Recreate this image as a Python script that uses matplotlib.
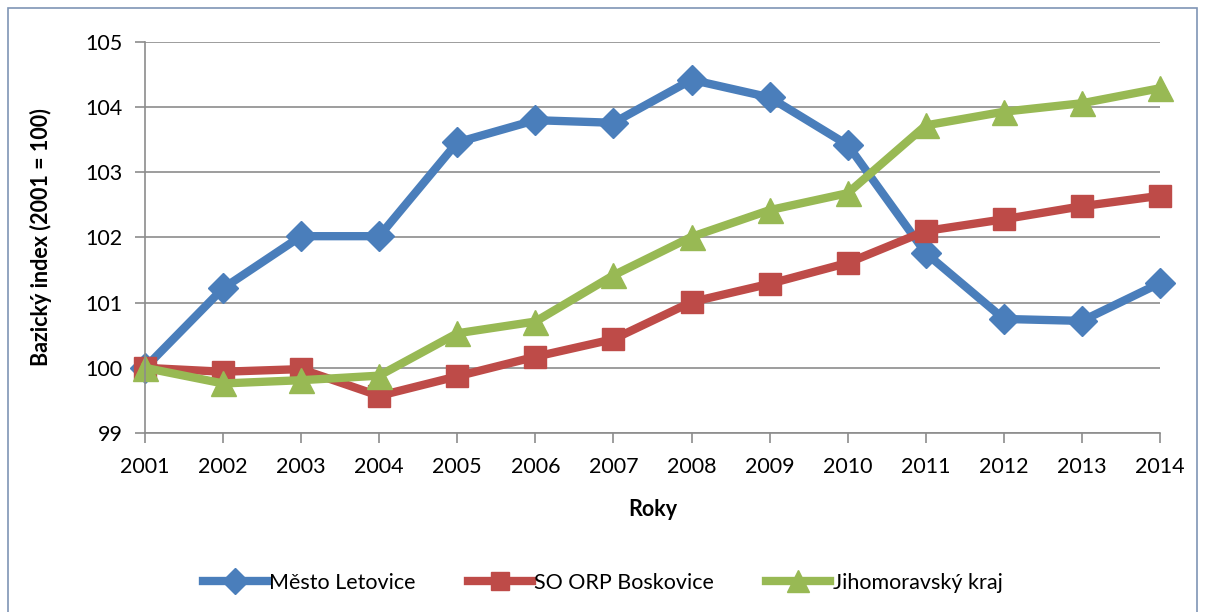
import matplotlib.pyplot as plt
from matplotlib.patches import Rectangle

roky = [2001, 2002, 2003, 2004, 2005, 2006, 2007, 2008, 2009, 2010, 2011, 2012, 2013, 2014]
letovice = [100.0, 101.22, 102.02, 102.02, 103.46, 103.80, 103.76, 104.42, 104.15, 103.42, 101.76, 100.75, 100.72, 101.30]
boskovice = [100.0, 99.94, 99.98, 99.57, 99.87, 100.17, 100.44, 101.01, 101.29, 101.61, 102.10, 102.28, 102.48, 102.64]
jmk = [100.0, 99.76, 99.81, 99.88, 100.53, 100.71, 101.42, 102.01, 102.42, 102.68, 103.72, 103.93, 104.06, 104.29]
nazvy = ['Město Letovice', 'SO ORP Boskovice', 'Jihomoravský kraj']

plt.rcParams['font.family'] = ['Lato', 'DejaVu Sans']

fig = plt.figure(figsize=(12.05, 6.12), dpi=100)
ax = fig.add_axes([0.1203, 0.2925, 0.8424, 0.6389])

# ramecek kolem grafu
fig.patches.append(Rectangle((8 / 1205, -0.05), 1189 / 1205, 1 - 8 / 612 + 0.05,
                             transform=fig.transFigure, fill=False,
                             edgecolor='#7f95b5', linewidth=1.2))

ax.plot(roky, letovice, color='#4A7EBB', lw=6, marker='D', ms=15, label=nazvy[0])
ax.plot(roky, boskovice, color='#BE4B48', lw=6, marker='s', ms=16, label=nazvy[1])
ax.plot(roky, jmk, color='#98B954', lw=6, marker='^', ms=18, label=nazvy[2])

ax.set_xlim(2001, 2014)
ax.set_ylim(99, 105)
ax.set_xticks(roky)
ax.set_yticks(range(99, 106))
ax.yaxis.grid(True, color='#8c8c8c', lw=1.2)
ax.set_axisbelow(True)
for s in ['top', 'right']:
    ax.spines[s].set_visible(False)
for s in ['left', 'bottom']:
    ax.spines[s].set_color('#8c8c8c')
    ax.spines[s].set_linewidth(1.2)
ax.tick_params(axis='both', colors='#8c8c8c', length=7, width=1.2, labelsize=15.5,
               labelcolor='black')
ax.tick_params(axis='x', pad=10)
ax.tick_params(axis='y', pad=9)

ax.set_xlabel('Roky', fontsize=15.5, fontweight='bold', labelpad=16)
ax.set_ylabel('Bazický index (2001 = 100)', fontsize=15.5, fontweight='bold', labelpad=24)

ax.legend(loc='center', bbox_to_anchor=(0.5, 0.048), bbox_transform=fig.transFigure,
          ncol=3, frameon=False, fontsize=15.5, handlelength=3.0, handletextpad=0.1,
          columnspacing=2.4, markerscale=0.85)

for line in ax.get_lines():
    line.set_clip_on(False)

fig.savefig('out.png', dpi=100)
